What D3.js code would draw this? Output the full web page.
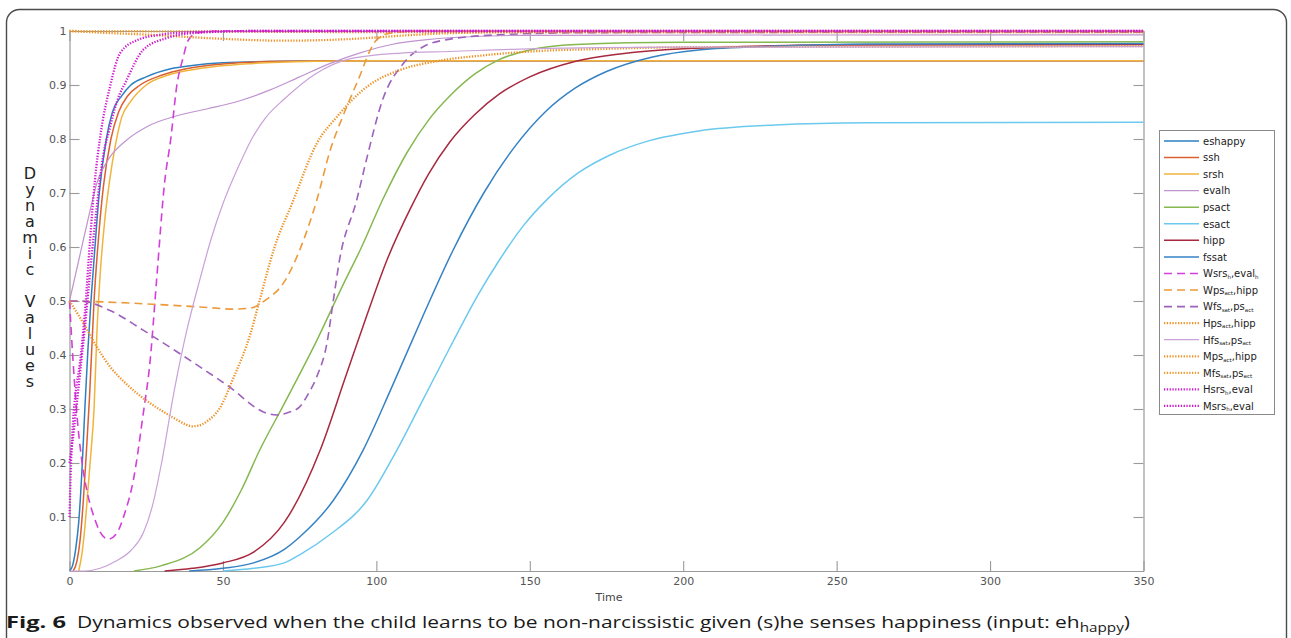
<!DOCTYPE html>
<html><head><meta charset="utf-8">
<script src="https://cdn.jsdelivr.net/npm/d3@7"></script>
<style>
html,body{margin:0;padding:0;background:#fff;}
svg{display:block;}
.vlabel{writing-mode:vertical-rl;text-orientation:upright;}
</style></head>
<body>
<svg id="chart" width="1291" height="638"></svg>
<script>
// ---------------- DATA ----------------
const seriesKeys = ["eshappy","ssh","srsh","evalh","psact","esact","hipp","fssat","Wsrs","Wps","Wfs","Hps","Hfs","Mps","Mfs","Hsrs","Msrs"];
const seriesColors = ["#2D7FC0","#DA6030","#F0B43C","#BF94CF","#86B850","#6CC9EE","#A8283F","#3682C4","#D23FD9","#EC9B3C","#9E62BC","#EE9228","#C8A2D8","#EE9228","#EE9A30","#D21CD2","#CC1ACC"];
const seriesStyle = ["solid","solid","solid","solid","solid","solid","solid","solid","dash","dash","dash","dot","solid","dot","dot","dot","dot"];

const eshappy = [[0,0],[1,0.01],[2,0.04],[3,0.09],[4,0.18],[5,0.3],[6,0.41],[7,0.5],[8.3,0.6],[9.7,0.7],[12,0.8],[14,0.85],[17,0.88],[20,0.9],[25,0.915],[33,0.93],[40,0.936],[50,0.941],[70,0.944],[100,0.945],[350,0.945]];
const ssh = [[1.2,0],[2.5,0.02],[3.5,0.06],[4.5,0.13],[5.5,0.22],[6.5,0.32],[8,0.5],[9.5,0.62],[11,0.71],[13.5,0.8],[16,0.85],[19,0.88],[23,0.9],[30,0.918],[38,0.93],[50,0.939],[70,0.944],[100,0.945],[350,0.945]];
const srsh = [[3,0],[4,0.03],[5,0.08],[6,0.15],[7,0.22],[8,0.3],[9,0.45],[10,0.55],[11.5,0.65],[13,0.72],[15,0.79],[17,0.84],[20,0.87],[25,0.9],[32,0.918],[42,0.93],[60,0.94],[80,0.944],[100,0.945],[350,0.945]];
const evalh = [[0,0.5],[3,0.575],[6,0.65],[9,0.72],[13,0.765],[18,0.795],[26,0.825],[35,0.843],[45,0.856],[55,0.87],[65,0.89],[75,0.915],[85,0.94],[95,0.96],[105,0.975],[115,0.983],[125,0.988],[150,0.992],[350,0.993]];
const psact = [[21,0],[30,0.01],[42.5,0.043],[50,0.09],[56,0.15],[62,0.224],[70,0.31],[80,0.42],[90,0.54],[94.7,0.594],[102,0.687],[110,0.775],[117,0.835],[124,0.88],[132,0.92],[140,0.947],[150,0.965],[165,0.975],[200,0.979],[350,0.98]];
const esact = [[50,0],[60,0.005],[70,0.015],[75,0.03],[85,0.068],[97,0.131],[106.7,0.224],[115,0.315],[125,0.425],[133,0.51],[140,0.575],[148,0.64],[156,0.69],[166,0.738],[176,0.77],[189,0.797],[205,0.815],[230,0.826],[260,0.83],[350,0.831]];
const hipp = [[31,0],[40,0.005],[50,0.015],[60,0.035],[70,0.09],[81.7,0.224],[90,0.36],[97,0.475],[103.4,0.575],[111,0.67],[117,0.735],[124,0.795],[132,0.845],[140,0.883],[150,0.915],[165,0.944],[180,0.958],[200,0.967],[250,0.974],[350,0.975]];
const fssat = [[39,0],[50,0.005],[60,0.015],[70,0.04],[75,0.063],[86,0.131],[95.7,0.224],[105,0.34],[115,0.47],[125,0.594],[135,0.7],[145,0.785],[155,0.85],[165,0.895],[175,0.925],[190,0.952],[205,0.965],[230,0.972],[260,0.976],[350,0.977]];
const Wsrs = [[0,0.5],[0.3,0.47],[1.2,0.385],[2.4,0.29],[4,0.205],[6,0.14],[8,0.1],[10,0.072],[12.6,0.059],[15.4,0.07],[18,0.107],[20.8,0.168],[24,0.29],[26.2,0.385],[28.4,0.54],[31,0.72],[33,0.8],[35,0.9],[37,0.95],[38.7,0.983],[42,0.997],[50,1],[350,1]];
const Wps = [[0,0.5],[7.7,0.499],[27,0.494],[42.5,0.489],[53.5,0.485],[59,0.487],[64,0.502],[69.7,0.533],[75,0.594],[80.6,0.687],[85,0.78],[89,0.841],[93.6,0.903],[100,0.983],[104.5,0.996],[115,1],[350,1]];
const Wfs = [[0,0.5],[3.4,0.5],[13,0.483],[24,0.446],[35,0.406],[42.5,0.378],[53.5,0.335],[60,0.305],[64.3,0.292],[67.5,0.289],[71,0.293],[75,0.304],[78,0.33],[80.6,0.36],[83.9,0.422],[86,0.502],[88,0.576],[93.6,0.687],[97,0.767],[102,0.872],[108.8,0.94],[115,0.97],[124,0.985],[140,0.993],[170,0.997],[350,0.998]];
const Hps = [[0,0.5],[4.5,0.459],[8.9,0.415],[13,0.38],[18.6,0.346],[25,0.316],[31.7,0.291],[35,0.28],[38,0.271],[40,0.268],[42,0.269],[45,0.278],[49,0.302],[53.4,0.357],[59,0.44],[62,0.502],[66.5,0.594],[73,0.687],[80.6,0.792],[87,0.84],[97,0.897],[107.8,0.928],[118.6,0.943],[135,0.955],[150,0.962],[175,0.967],[200,0.97],[350,0.972]];
const Hfs = [[0,0],[5,0],[10,0.005],[15,0.018],[20,0.038],[24,0.07],[27,0.12],[30,0.2],[34,0.33],[38,0.44],[42.5,0.54],[46,0.612],[50,0.68],[55,0.748],[59,0.796],[64,0.84],[70,0.874],[80,0.92],[91,0.948],[108,0.959],[124,0.962],[150,0.967],[200,0.97],[350,0.971]];
const Mps = [[0,1],[10,0.997],[26,0.993],[48,0.986],[70,0.982],[91,0.985],[110,0.992],[124,0.996],[150,0.998],[350,0.998]];
const Mfs = [[0,1],[50,0.999],[100,0.998],[350,0.998]];
const Hsrs = [[0,0.1],[0.5,0.2],[1.2,0.28],[2,0.33],[3.4,0.385],[5,0.478],[6.7,0.613],[8.3,0.724],[10,0.804],[13.2,0.897],[16.5,0.959],[22,0.983],[29.5,0.993],[40,0.998],[60,1],[350,1]];
const Msrs = [[0,0.2],[1,0.24],[2,0.29],[3.5,0.37],[5,0.45],[7,0.57],[9,0.68],[11,0.77],[13,0.817],[15.5,0.87],[18.6,0.909],[24,0.965],[31.7,0.987],[40,0.996],[60,1],[350,1]];

const seriesData = [eshappy,ssh,srsh,evalh,psact,esact,hipp,fssat,Wsrs,Wps,Wfs,Hps,Hfs,Mps,Mfs,Hsrs,Msrs];

// legend labels: [text, isSubscript]
const legendLabels = [
  [["eshappy",0]],[["ssh",0]],[["srsh",0]],[["evalh",0]],[["psact",0]],[["esact",0]],[["hipp",0]],[["fssat",0]],
  [["Wsrs",0],["h",1],[",eval",0],["h",1]],
  [["Wps",0],["act",1],[",hipp",0]],
  [["Wfs",0],["sat",1],[",ps",0],["act",1]],
  [["Hps",0],["act",1],[",hipp",0]],
  [["Hfs",0],["sat",1],[",ps",0],["act",1]],
  [["Mps",0],["act",1],[",hipp",0]],
  [["Mfs",0],["sat",1],[",ps",0],["act",1]],
  [["Hsrs",0],["h",1],[",eval",0]],
  [["Msrs",0],["h",1],[",eval",0]]
];

const xTicks = [0,50,100,150,200,250,300,350];
const yTicks = [0.1,0.2,0.3,0.4,0.5,0.6,0.7,0.8,0.9,1];
const yLabel = "Dynamic Values";
const xLabel = "Time";
const captionBold = "Fig. 6";
const captionText = "Dynamics observed when the child learns to be non-narcissistic given (s)he senses happiness (input: eh";
const captionSub = "happy";

// ---------------- DRAW ----------------
const svg = d3.select("#chart");
const L = 69.5, R = 1143.5, T = 31, B = 571;
const x = d3.scaleLinear().domain([0,350]).range([L,R]);
const y = d3.scaleLinear().domain([0,1]).range([B,T]);

// outer frame
svg.append("rect").attr("x",6.5).attr("y",9.5).attr("width",1280).attr("height",660)
  .attr("rx",13).attr("fill","none").attr("stroke","#4a4a4a").attr("stroke-width",1.4);

const axCol = "#9a9a9a";
function styleAxis(g){
  g.select(".domain").attr("stroke",axCol).attr("stroke-width",1.2);
  g.selectAll(".tick line").attr("stroke",axCol).attr("stroke-width",1.1);
  g.selectAll(".tick text").attr("fill","#555").attr("font-family","DejaVu Sans, Verdana, sans-serif").attr("font-size",11);
}
svg.append("g").attr("transform",`translate(0,${B})`)
  .call(d3.axisBottom(x).tickValues(xTicks).tickSize(-10).tickSizeOuter(0).tickPadding(6).tickFormat(d3.format("d")))
  .call(styleAxis);
svg.append("g").attr("transform",`translate(0,${T})`)
  .call(d3.axisTop(x).tickValues(xTicks).tickSize(-10).tickSizeOuter(0).tickFormat(""))
  .call(styleAxis);
svg.append("g").attr("transform",`translate(${L},0)`)
  .call(d3.axisLeft(y).tickValues(yTicks).tickSize(-10).tickSizeOuter(0).tickPadding(3).tickFormat(d => d===1 ? "1" : d3.format(".1f")(d)))
  .call(styleAxis);
svg.append("g").attr("transform",`translate(${R},0)`)
  .call(d3.axisRight(y).tickValues(yTicks).tickSize(-10).tickSizeOuter(0).tickFormat(""))
  .call(styleAxis);

// lines
const line = d3.line().x(d => x(d[0])).y(d => y(d[1])).curve(d3.curveMonotoneX);
function applyStyle(sel, i){
  const st = seriesStyle[i];
  sel.attr("stroke",seriesColors[i]).attr("fill","none");
  if (st === "solid") sel.attr("stroke-width", (seriesKeys[i]==="evalh"||seriesKeys[i]==="Hfs") ? 1.2 : 1.5);
  else if (st === "dash") sel.attr("stroke-width",1.6).attr("stroke-dasharray","8,5");
  else sel.attr("stroke-width",2.3).attr("stroke-dasharray","1.3,1.5");
}
const plot = svg.append("g");
seriesData.forEach((data,i) => {
  plot.append("path").datum(data).attr("d",line).call(applyStyle,i);
});

// axis labels
svg.append("text").attr("x",609).attr("y",601).attr("text-anchor","middle")
  .attr("font-family","DejaVu Sans, Verdana, sans-serif").attr("font-size",11).attr("fill","#444").text(xLabel);
svg.append("text").attr("class","vlabel").attr("x",30).attr("y",164)
  .attr("font-family","DejaVu Sans, Verdana, sans-serif").attr("font-size",16).attr("fill","#222")
  .attr("letter-spacing",-3).text(yLabel);

// legend
const lgX = 1159.5, lgY = 130.5, lgW = 115, lgH = 284, rowH = 16.56;
svg.append("rect").attr("x",lgX).attr("y",lgY).attr("width",lgW).attr("height",lgH)
  .attr("fill","#fff").attr("stroke","#8a8a8a").attr("stroke-width",1);
legendLabels.forEach((parts,i) => {
  const cy = 141 + i*rowH;
  svg.append("line").attr("x1",1164).attr("x2",1199).attr("y1",cy).attr("y2",cy).call(applyStyle,i);
  const t = svg.append("text").attr("x",1203).attr("y",cy+3.8)
    .attr("font-family","DejaVu Sans, Verdana, sans-serif").attr("font-size",10).attr("fill","#222");
  let sub = false;
  parts.forEach(p => {
    const dy = p[1] ? (sub ? 0 : 1.5) : (sub ? -1.5 : 0);
    t.append("tspan").attr("font-size",p[1] ? 5.5 : 10).attr("dy",dy).text(p[0]);
    sub = !!p[1];
  });
});

// caption
svg.append("text").attr("x",6).attr("y",628).attr("font-family","Open Sans, Noto Sans, sans-serif")
  .attr("font-size",16.5).attr("font-weight","bold").attr("fill","#1a1a1a")
  .attr("textLength",60).attr("lengthAdjust","spacingAndGlyphs").text(captionBold);
const cap = svg.append("text").attr("x",77).attr("y",628).attr("font-family","Open Sans, Noto Sans, sans-serif")
  .attr("font-size",16.5).attr("fill","#1a1a1a").attr("textLength",1053).attr("lengthAdjust","spacingAndGlyphs");
cap.append("tspan").text(captionText);
cap.append("tspan").attr("font-size",12).attr("dy",4).text(captionSub);
cap.append("tspan").attr("dy",-4).text(")");
</script>
</body></html>
